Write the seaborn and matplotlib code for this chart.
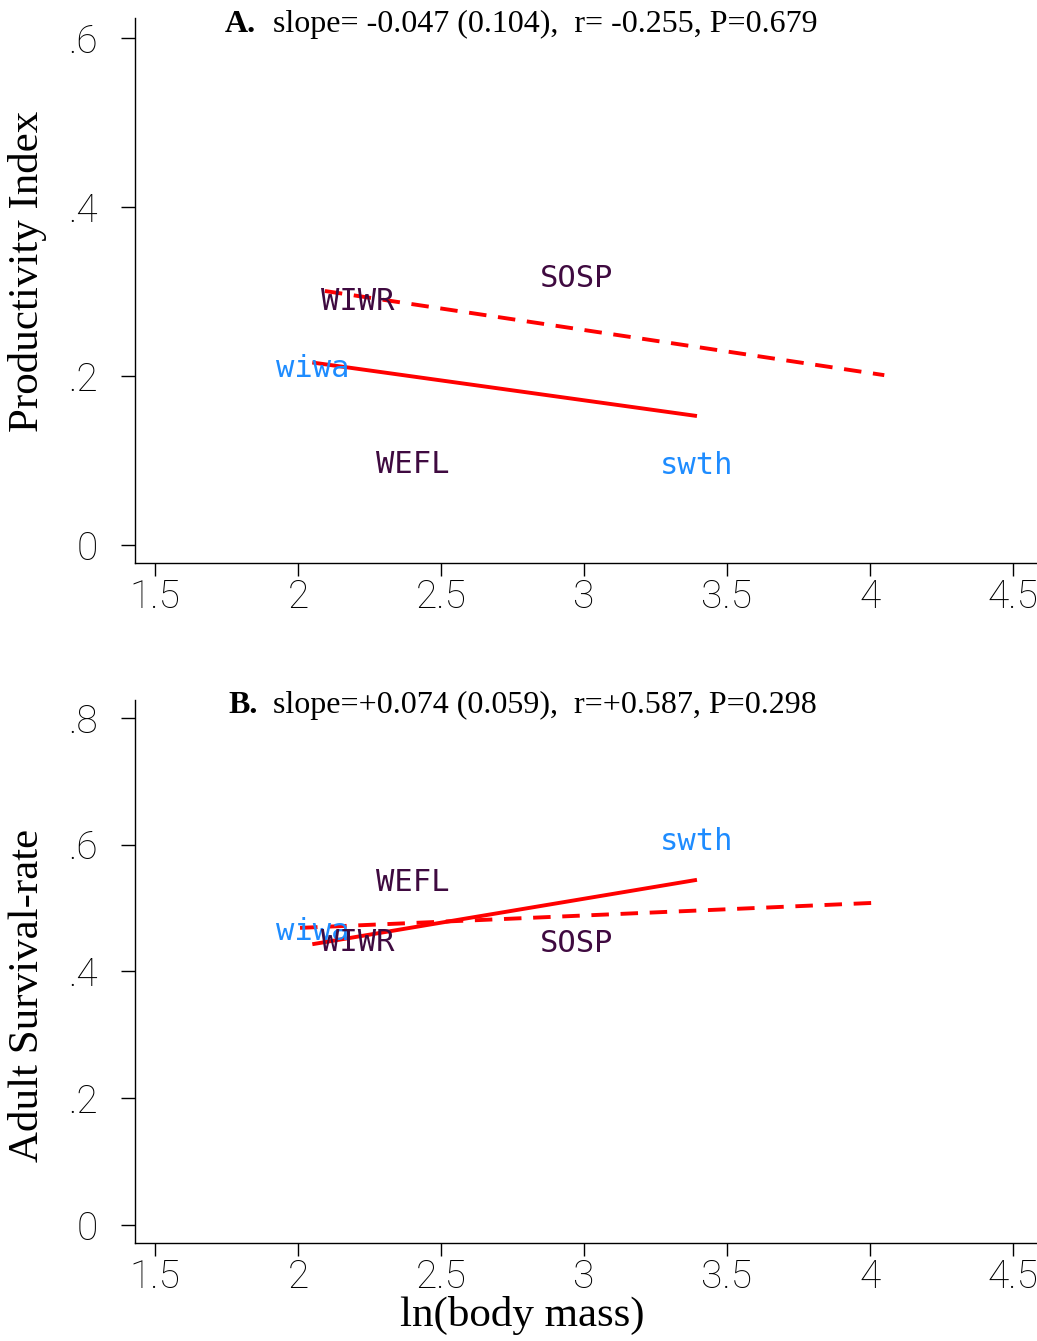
import numpy as np
import pandas as pd
import matplotlib
matplotlib.use("Agg")
import matplotlib.pyplot as plt
import seaborn as sns

# ---------------- data ----------------
species = ["wiwa", "WIWR", "WEFL", "SOSP", "swth"]
ln_mass = [2.05, 2.21, 2.40, 2.975, 3.395]
productivity = [0.198, 0.278, 0.085, 0.305, 0.083]
survival = [0.448, 0.431, 0.526, 0.429, 0.590]

# comparison (dashed) lines: endpoints
dash_A_x = [2.094, 4.05]
dash_A_y = [0.3006, 0.201]
dash_B_x = [2.007, 4.01]
dash_B_y = [0.4686, 0.508]

title_A = "slope= -0.047 (0.104),  r= -0.255, P=0.679"
title_B = "slope=+0.074 (0.059),  r=+0.587, P=0.298"

xticks = [1.5, 2, 2.5, 3, 3.5, 4, 4.5]
xticklabels = ["1.5", "2", "2.5", "3", "3.5", "4", "4.5"]
yticks_A = [0, 0.2, 0.4, 0.6]
yticklabels_A = ["0", ".2", ".4", ".6"]
yticks_B = [0, 0.2, 0.4, 0.6, 0.8]
yticklabels_B = ["0", ".2", ".4", ".6", ".8"]

df = pd.DataFrame({"species": species, "x": ln_mass,
                   "prod": productivity, "surv": survival})

# ---------------- style ----------------
sns.set_style("ticks")
plt.rcParams["text.color"] = "black"
plt.rcParams["axes.labelcolor"] = "black"
plt.rcParams["xtick.color"] = "black"
plt.rcParams["ytick.color"] = "black"
plt.rcParams["axes.edgecolor"] = "black"

W, H = 1037, 1341
fig = plt.figure(figsize=(W / 100, H / 100), dpi=100)

def fx(px):
    return px / W

def fy(py):
    return 1 - py / H

PURPLE = "#3f0a40"
BLUE = "#1e8cff"
RED = "#ff0000"
TICKFONT = dict(family=["Roboto", "DejaVu Sans"], weight="light", size=28, color="black")
SERIF = ["Liberation Serif", "DejaVu Serif"]

def make_panel(rect, ycol, ylim, yticks, yticklabels, dx, dy):
    ax = fig.add_axes(rect)
    sns.regplot(data=df, x="x", y=ycol, ax=ax, scatter=False, ci=None,
                truncate=True, color=RED, line_kws=dict(lw=2.8, solid_capstyle="butt"))
    sns.lineplot(x=dx, y=dy, ax=ax, color=RED, lw=2.8)
    ax.lines[-1].set_dashes([4.5, 3])
    for name, x, y in zip(species, ln_mass, df[ycol]):
        col = BLUE if name.islower() else PURPLE
        ax.annotate(name, (x, y), xytext=(0, 6.5), textcoords="offset points",
                    ha="center", va="center", color=col,
                    family=["DejaVu Sans Mono"], fontsize=22)
    ax.set_xlim(1.43, 4.584)
    ax.set_ylim(*ylim)
    ax.set_xticks(xticks)
    ax.set_xticklabels(xticklabels, **TICKFONT)
    ax.set_yticks(yticks)
    ax.set_yticklabels(yticklabels, **TICKFONT)
    ax.set_xlabel("")
    ax.set_ylabel("")
    for s in ["top", "right"]:
        ax.spines[s].set_visible(False)
    for s in ["left", "bottom"]:
        ax.spines[s].set_linewidth(1.0)
        ax.spines[s].set_color("black")
    ax.tick_params(axis="y", length=10, width=1.0, pad=17, color="black")
    ax.tick_params(axis="x", length=9, width=1.0, pad=2, color="black")
    return ax

axA = make_panel([fx(135), fy(563), fx(1037 - 135), (563 - 18) / H],
                 "prod", (-0.0213, 0.6237), yticks_A, yticklabels_A, dash_A_x, dash_A_y)
axB = make_panel([fx(135), fy(1243), fx(1037 - 135), (1243 - 700) / H],
                 "surv", (-0.0284, 0.828), yticks_B, yticklabels_B, dash_B_x, dash_B_y)

# titles
TS = 23
fig.text(fx(225), fy(24), "A.", family=SERIF, weight="bold", fontsize=TS, ha="left", va="center")
fig.text(fx(273), fy(24), title_A, family=SERIF, fontsize=TS, ha="left", va="center")
fig.text(fx(228), fy(705), "B.", family=SERIF, weight="bold", fontsize=TS, ha="left", va="center")
fig.text(fx(273), fy(705), title_B, family=SERIF, fontsize=TS, ha="left", va="center")

# axis labels
fig.text(fx(28), fy(271), "Productivity Index", family=SERIF, fontsize=31,
         rotation=90, ha="center", va="center")
fig.text(fx(28), fy(995), "Adult Survival-rate", family=SERIF, fontsize=31,
         rotation=90, ha="center", va="center")
fig.text(fx(522), fy(1315), "ln(body mass)", family=SERIF, fontsize=31,
         ha="center", va="center")

fig.savefig("out.png", dpi=100, facecolor="white")
